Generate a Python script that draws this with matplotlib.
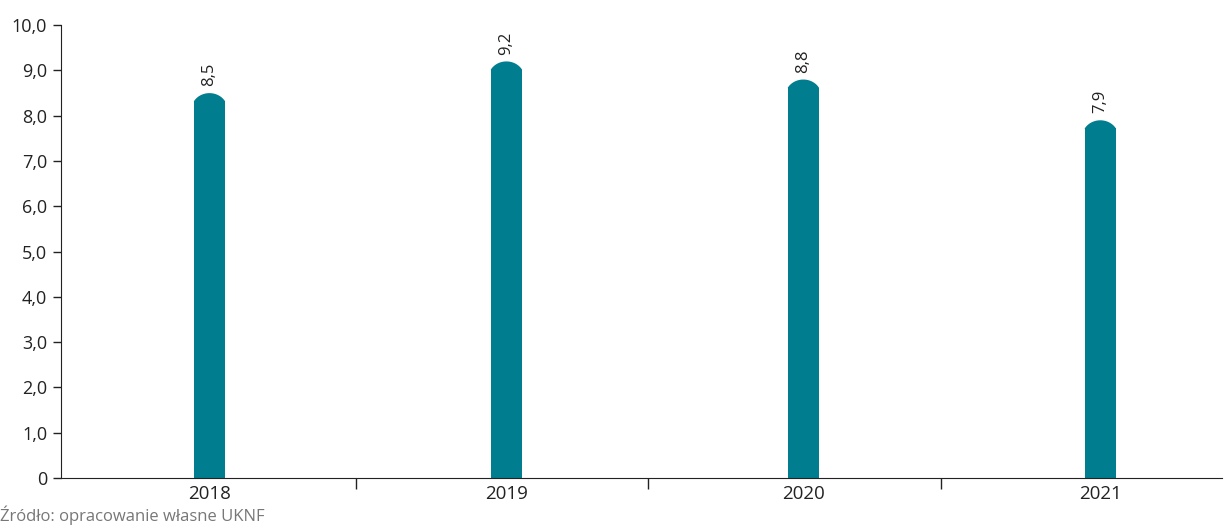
import numpy as np
import matplotlib.pyplot as plt
from matplotlib.patches import Polygon

plt.rcParams['font.family'] = ['Open Sans', 'DejaVu Sans']

# Data
years = ['2018', '2019', '2020', '2021']
values = [8.5, 9.2, 8.8, 7.9]
labels = ['8,5', '9,2', '8,8', '7,9']
y_ticks = [0, 1, 2, 3, 4, 5, 6, 7, 8, 9, 10]
y_ticklabels = ['0', '1,0', '2,0', '3,0', '4,0', '5,0', '6,0', '7,0', '8,0', '9,0', '10,0']

color = '#007D8E'
bar_w = 0.105
cap = 0.18

fig = plt.figure(figsize=(12.25, 5.25), dpi=100)
ax = fig.add_axes([0.0498, 0.0895, 0.9478, 0.8625])

x = np.arange(len(years))
ax.bar(x, [v - cap for v in values], width=bar_w, color=color, zorder=2)

# rounded caps on top of the bars
t = np.linspace(-1, 1, 41)
for xi, v in zip(x, values):
    cx = xi + t * bar_w / 2
    cy = v - cap * (1 - np.sqrt(1 - 0.75 * t ** 2)) / 0.5
    pts = np.column_stack([np.r_[cx, xi + bar_w / 2, xi - bar_w / 2],
                           np.r_[cy, v - cap - 0.01, v - cap - 0.01]])
    ax.add_patch(Polygon(pts, closed=True, facecolor=color, edgecolor='none', zorder=2))

for xi, v, lab in zip(x, values, labels):
    ax.text(xi, v + 0.15, lab, rotation=90, ha='center', va='bottom',
            fontsize=12, color='#222222')

ax.set_xlim(-0.5, 3.41)
ax.set_ylim(0, 10)
ax.set_yticks(y_ticks)
ax.set_yticklabels(y_ticklabels, fontsize=13, color='#222222')

# boundary ticks on x axis
ax.set_xticks([0.492, 1.478, 2.465])
ax.set_xticklabels([])
ax.tick_params(axis='x', length=8, width=1, color='#222222', direction='out')
ax.set_xticks(x, minor=True)
ax.set_xticklabels(years, minor=True, fontsize=13.5, color='#222222')
ax.tick_params(axis='x', which='minor', length=0, pad=5)
ax.tick_params(axis='y', length=6, width=1, color='#222222', pad=4)

for s in ['top', 'right']:
    ax.spines[s].set_visible(False)
ax.spines['left'].set_color('#222222')
ax.spines['bottom'].set_color('#222222')

fig.text(0.0, 0.0, 'Źródło: opracowanie własne UKNF', fontsize=12,
         color='#777777', ha='left', va='bottom')

fig.savefig('out.png', dpi=100)
